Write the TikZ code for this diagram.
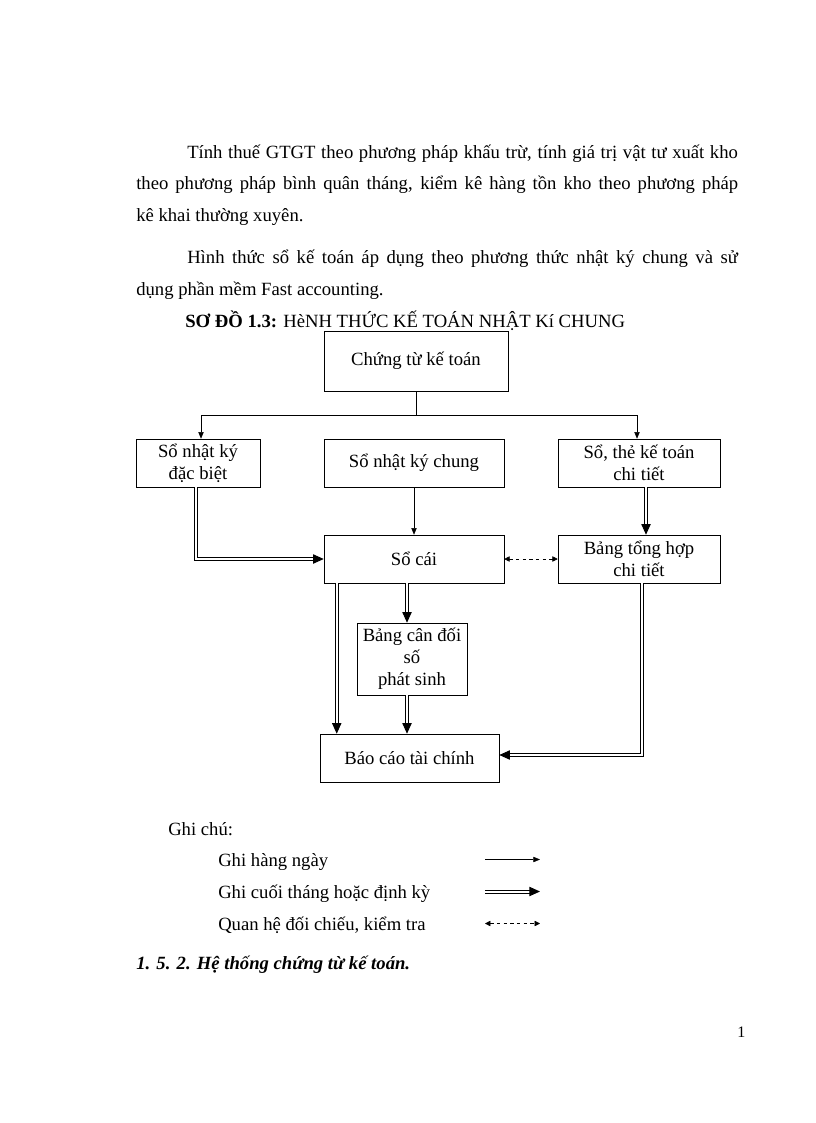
\documentclass[tikz,border=0pt]{standalone}
\usepackage{fontspec}
\setmainfont{Liberation Serif}
\usetikzlibrary{arrows.meta}

\begin{document}
\begin{tikzpicture}[
        x=0.75pt, y=-0.75pt,
        every node/.style={font=\fontsize{14pt}{16.5pt}\selectfont},
        box/.style={draw, thin, inner sep=1pt, align=center},
        textline/.style={inner sep=0pt, anchor=base west},
        daily/.style={draw, thin, -{Triangle[length=5pt,width=4pt]}},
        monthly/.style={draw, double, double distance=1.5pt, line width=0.75pt,
            -{Triangle[length=8pt,width=7pt]}},
        check/.style={draw, thin, dash pattern=on 2.5pt off 2.5pt,
            {Triangle[length=4pt,width=4pt]}-{Triangle[length=4pt,width=4pt]}},
    ]
    \useasboundingbox (0,0) rectangle (816,1123);

    % text of the page
    \node[textline] (para1a) at (187,159) {\makebox[413pt][s]{Tính thuế GTGT theo phương pháp khấu trừ, tính giá trị vật tư xuất kho}};
    \node[textline] (para1b) at (136,190) {\makebox[451.5pt][s]{theo phương pháp bình quân tháng, kiểm kê hàng tồn kho theo phương pháp}};
    \node[textline] (para1c) at (136,222) {kê khai thường xuyên.};
    \node[textline] (para2a) at (187,263) {\makebox[413pt][s]{Hình thức sổ kế toán áp dụng theo phương thức nhật ký chung và sử}};
    \node[textline] (para2b) at (136,295) {dụng phần mềm Fast accounting.};
    \node[textline] (title) at (185,327) {\textbf{SƠ ĐỒ 1.3:} HèNH THỨC KẾ TOÁN NHẬT Kí CHUNG};

    % boxes
    \foreach \pos/\name/\bw/\bh/\txt in {
            {(416,361)/ct/138pt/45pt/{Chứng từ kế toán}},
            {(198,463)/nkdb/93pt/36pt/{Sổ nhật ký\\đặc biệt}},
            {(414,463)/nkc/135pt/36pt/{Sổ nhật ký chung}},
            {(639,463)/ktct/121.5pt/36pt/{Sổ, thẻ kế toán\\chi tiết}},
            {(414,559)/socai/135pt/36pt/{Sổ cái}},
            {(639,559)/thct/121.5pt/36pt/{Bảng tổng hợp\\chi tiết}},
            {(412,659)/cdps/82.5pt/54pt/{Bảng cân đối\\số\\phát sinh}},
            {(409.5,758)/bctc/134.25pt/36pt/{Báo cáo tài chính}}}
        \node[box, minimum width=\bw, minimum height=\bh] (\name) at \pos {\txt};

    % connectors
    \coordinate (fork) at (416,415);
    \coordinate (sctop) at ([xshift=9.75pt]socai.south west);
    \coordinate (cdtop) at ([xshift=-3.75pt]cdps.north);
    \coordinate (cdbot) at ([xshift=-3.75pt]cdps.south);
    \draw[thin] (ct.south) -- (fork);
    \draw[daily] (fork) -| ([xshift=2.25pt]nkdb.north);
    \draw[daily] (fork) -| ([xshift=-1.5pt]ktct.north);
    \draw[daily] (nkc.south) -- (socai.north);
    \draw[monthly] ([xshift=-1.5pt]nkdb.south) |- (socai.west);
    \draw[monthly] ([xshift=5.25pt]ktct.south) -- ([xshift=5.25pt]thct.north);
    \draw[check] (socai.east) -- (thct.west);
    \draw[monthly] (sctop) -- (sctop |- bctc.north);
    \draw[monthly] (cdtop |- socai.south) -- (cdtop);
    \draw[monthly] (cdbot) -- (cdbot |- bctc.north);
    \draw[monthly] ([xshift=2.25pt]thct.south) |- ([yshift=2.25pt]bctc.east);

    % legend
    \node[textline] (note) at (168,835) {Ghi chú:};
    \foreach \y/\name/\kind/\txt in {
            866/day/daily/{Ghi hàng ngày},
            898/month/monthly/{Ghi cuối tháng hoặc định kỳ},
            930/cross/check/{Quan hệ đối chiếu, kiểm tra}} {
        \node[textline] (\name) at (218,\y) {\txt};
        \coordinate (\name a) at (485,\y-6.5);
        \coordinate (\name b) at (540,\y-6.5);
        \draw[\kind] (\name a) -- (\name b);
    }

    \node[textline] (heading) at (136,969) {\textbf{\textit{1. 5. 2. Hệ thống chứng từ kế toán.}}};
    \node[textline, font=\fontsize{12pt}{14pt}\selectfont] (page) at (737,1037) {1};
\end{tikzpicture}
\end{document}
